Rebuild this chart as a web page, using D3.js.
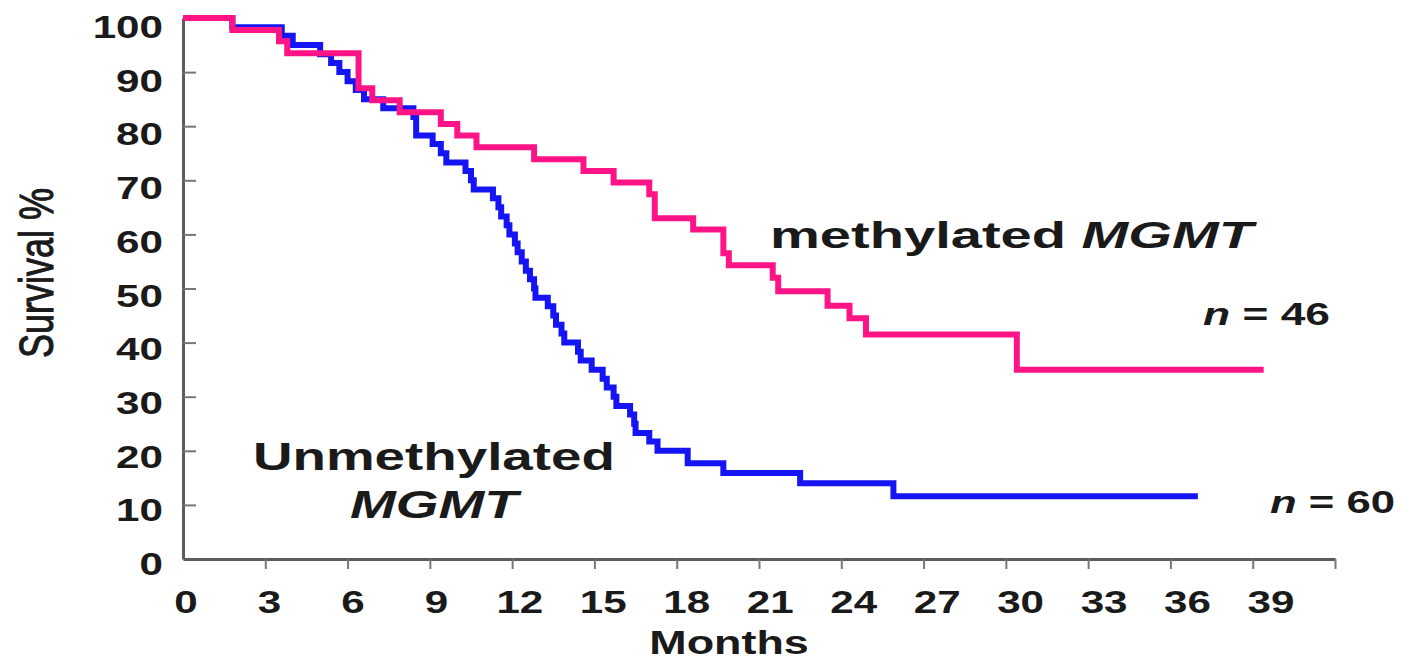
<!DOCTYPE html>
<html>
<head>
<meta charset="utf-8">
<script src="https://cdn.jsdelivr.net/npm/d3@7"></script>
<style>
  body { margin: 0; background: #fff; }
  text { font-family: "Liberation Sans", Arial, sans-serif; fill: #1a1a1a; }
</style>
</head>
<body>
<div id="km"></div>
<script>
// Kaplan-Meier data (months, survival %)
var methMonths = [0, 1.8, 3.5, 3.8, 6.4, 6.9, 7.9, 9.4, 10.0, 10.7, 12.8, 14.6, 15.7, 17.0, 17.2, 18.6, 19.7, 19.9, 21.5, 21.7, 23.5, 24.3, 24.9, 30.4, 39.4];
var methSurv   = [100, 97.8, 95.7, 93.5, 87.0, 84.8, 82.6, 80.4, 78.3, 76.1, 73.9, 71.7, 69.6, 67.4, 63.0, 60.9, 56.5, 54.3, 52.0, 49.5, 46.8, 44.5, 41.5, 35.0, 35.0];

var unmethMonths = [0, 1.8, 3.6, 4.0, 5.0, 5.4, 5.7, 6.0, 6.3, 6.6, 7.3, 8.4, 8.5, 9.1, 9.4, 9.6, 10.3, 10.5, 10.6, 11.3, 11.5, 11.6, 11.8, 11.9, 12.1, 12.2, 12.35, 12.5, 12.65, 12.8, 12.85, 13.3, 13.5, 13.6, 13.8, 13.9, 14.4, 14.5, 14.9, 15.3, 15.45, 15.7, 15.8, 16.3, 16.45, 16.5, 17.0, 17.3, 18.4, 19.7, 22.5, 25.9, 37.0];
var unmethSurv   = [100, 98.3, 96.7, 95.0, 93.3, 91.7, 90.0, 88.3, 86.7, 85.0, 83.3, 81.7, 78.3, 76.7, 75.0, 73.3, 71.7, 70.0, 68.3, 66.7, 65.0, 63.3, 61.7, 60.0, 58.3, 56.7, 55.0, 53.3, 51.7, 50.0, 48.3, 46.7, 45.0, 43.3, 41.7, 40.0, 38.3, 36.7, 35.0, 33.3, 31.7, 30.0, 28.3, 26.7, 25.0, 23.3, 21.7, 20.0, 17.7, 15.9, 14.0, 11.6, 11.6];

var xTicks = [0, 3, 6, 9, 12, 15, 18, 21, 24, 27, 30, 33, 36, 39];
var yTicks = [0, 10, 20, 30, 40, 50, 60, 70, 80, 90, 100];

var methData = methMonths.map(function(m, i) { return { m: m, s: methSurv[i] }; });
var unmethData = unmethMonths.map(function(m, i) { return { m: m, s: unmethSurv[i] }; });

// SVG 설정
var W = 1407, H = 662;
var svg = d3.select("#km").append("svg")
    .attr("width", W)
    .attr("height", H);

// scales (the picture is stretched sideways, so text gets scaled in x)
var xScale = d3.scaleLinear().domain([0, 42]).range([183, 1335]);
var yScale = d3.scaleLinear().domain([0, 100]).range([559, 18]);
// tick labels sit a little off their ticks in the original
var xLabelScale = d3.scaleLinear().domain([0, 39]).range([186, 1271]);
var yLabelScale = d3.scaleLinear().domain([0, 100]).range([564, 27]);
var stretch = 1.36;

// axes
var xAxis = d3.axisBottom(xScale)
    .tickValues(d3.range(3, 43, 3))
    .tickSize(10)
    .tickSizeOuter(0)
    .tickFormat("");
var yAxis = d3.axisLeft(yScale)
    .tickValues(d3.range(10, 100, 10))
    .tickSize(-13)
    .tickSizeOuter(0)
    .tickFormat("");

var gx = svg.append("g")
    .attr("transform", "translate(0," + yScale(0) + ")")
    .call(xAxis);
var gy = svg.append("g")
    .attr("transform", "translate(" + xScale(0) + ",0)")
    .call(yAxis);
[gx, gy].forEach(function(g) {
  g.select(".domain").attr("stroke", "#5c5c5c").attr("stroke-width", 3);
  g.selectAll(".tick line").attr("stroke", "#777").attr("stroke-width", 2);
});

// tick labels
svg.append("g").selectAll("g")
    .data(xTicks)
    .enter().append("g")
    .attr("transform", function(d) { return "translate(" + xLabelScale(d) + ",613) scale(" + stretch + ",1)"; })
    .append("text")
    .attr("text-anchor", "middle")
    .attr("font-size", 31)
    .attr("font-weight", "bold")
    .text(function(d) { return d; });

svg.append("g").selectAll("g")
    .data(yTicks)
    .enter().append("g")
    .attr("transform", function(d) { return "translate(163," + (yLabelScale(d) + 11) + ") scale(" + stretch + ",1)"; })
    .append("text")
    .attr("text-anchor", "end")
    .attr("font-size", 31)
    .attr("font-weight", "bold")
    .text(function(d) { return d; });

// axis titles
svg.append("g")
    .attr("transform", "translate(729,654) scale(" + stretch + ",1)")
    .append("text")
    .attr("text-anchor", "middle")
    .attr("font-size", 33)
    .attr("font-weight", "bold")
    .text("Months");

svg.append("g")
    .attr("transform", "translate(35,273) scale(" + stretch + ",1) rotate(-90)")
    .append("text")
    .attr("text-anchor", "middle")
    .attr("dy", "0.36em")
    .attr("font-size", 36)
    .attr("stroke", "#1a1a1a")
    .attr("stroke-width", 0.8)
    .text("Survival %");

// curves
var line = d3.line()
    .x(function(d) { return xScale(d.m); })
    .y(function(d) { return yScale(d.s); })
    .curve(d3.curveStepAfter);

svg.append("path")
    .datum(unmethData)
    .attr("d", line)
    .attr("fill", "none")
    .attr("stroke", "#1414f5")
    .attr("stroke-width", 6)
    .attr("stroke-linejoin", "miter");

svg.append("path")
    .datum(methData)
    .attr("d", line)
    .attr("fill", "none")
    .attr("stroke", "#ff1487")
    .attr("stroke-width", 6)
    .attr("stroke-linejoin", "miter");

// annotations: [x, baseline, width, size, parts]
var notes = [
  [770, 248, 483, 37, [["methylated ", false], ["MGMT", true]]],
  [1203, 325, 127, 31, [["n", true], [" = 46", false]]],
  [253, 470, 362, 38, [["Unmethylated", false]]],
  [350, 518, 168, 38, [["MGMT", true]]],
  [1270, 513, 125, 31, [["n", true], [" = 60", false]]]
];

notes.forEach(function(n) {
  var g = svg.append("g");
  var t = g.append("text")
      .attr("font-size", n[3])
      .attr("font-weight", "bold");
  n[4].forEach(function(p) {
    t.append("tspan")
        .attr("font-style", p[1] ? "italic" : "normal")
        .style("white-space", "pre")
        .text(p[0]);
  });
  var len = t.node().getComputedTextLength();
  g.attr("transform", "translate(" + n[0] + "," + n[1] + ") scale(" + (n[2] / len) + ",1)");
});
</script>
</body>
</html>
